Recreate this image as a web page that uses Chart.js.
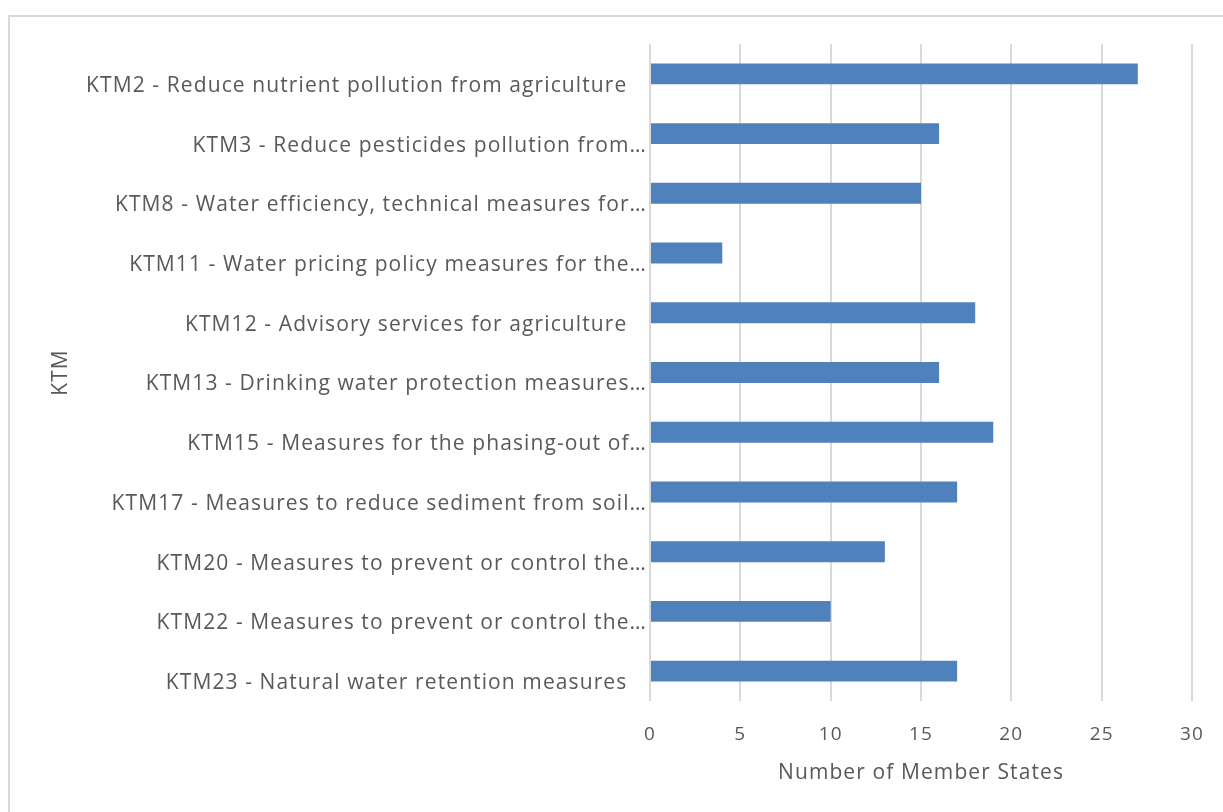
<!DOCTYPE html>
<html>
<head>
<meta charset="utf-8">
<script src="https://cdn.jsdelivr.net/npm/chart.js@4"></script>
<style>
html,body{margin:0;padding:0;background:#fff;overflow:hidden;}
#frame{position:absolute;left:8px;top:15px;width:1300px;height:900px;border:2px solid #d9d9d9;box-sizing:border-box;}
#wrap{position:absolute;left:0;top:0;width:1223px;height:812px;}
</style>
</head>
<body>
<div id="frame"></div>
<div id="wrap"><canvas id="chart" width="1223" height="812"></canvas></div>
<script>
const categories=[
"KTM2 - Reduce nutrient pollution from agriculture   ",
"KTM3 - Reduce pesticides pollution from…",
"KTM8 - Water efficiency, technical measures for…",
"KTM11 - Water pricing policy measures for the…",
"KTM12 - Advisory services for agriculture   ",
"KTM13 - Drinking water protection measures…",
"KTM15 - Measures for the phasing-out of…",
"KTM17 - Measures to reduce sediment from soil…",
"KTM20 - Measures to prevent or control the…",
"KTM22 - Measures to prevent or control the…",
"KTM23 - Natural water retention measures   "
];
const memberStates=[27,16,15,4,18,16,19,17,13,10,17];
const xTicks=[0,5,10,15,20,25,30];

const textColor="#595959";
const fontFamily="'Open Sans', sans-serif";

// calibri-ish spacing, the canvas gets reset on resize so set it each update
const spacing={
id:"spacing",
beforeUpdate(chart){chart.ctx.letterSpacing="1.1px";},
beforeDraw(chart){chart.ctx.letterSpacing="1.1px";}
};

new Chart(document.getElementById("chart"),{
type:"bar",
data:{
labels:categories,
datasets:[{
label:"Number of Member States",
data:memberStates,
backgroundColor:"#4f81bd",
barPercentage:0.35,
categoryPercentage:1
}]
},
plugins:[spacing],
options:{
indexAxis:"y",
responsive:false,
animation:false,
devicePixelRatio:1,
layout:{padding:{top:44,left:38,right:31,bottom:26}},
plugins:{legend:{display:false},tooltip:{enabled:false}},
scales:{
x:{
min:0,max:30,
afterBuildTicks:s=>{s.ticks=xTicks.map(v=>({value:v}));},
afterFit:s=>{s.height=85;s.paddingRight=0;s.paddingLeft=0;},
grid:{color:"#d9d9d9",lineWidth:2,drawTicks:false},
border:{display:false},
ticks:{color:textColor,font:{family:fontFamily,size:19},padding:22},
title:{display:true,text:"Number of Member States",color:textColor,font:{family:fontFamily,size:21},padding:{top:0,bottom:0}}
},
y:{
grid:{display:false,drawTicks:false},
border:{display:false},
afterFit:s=>{s.width=650-38;},
ticks:{color:textColor,font:{family:fontFamily,size:21},padding:3,autoSkip:false,labelOffset:12},
title:{display:true,text:"KTM",color:textColor,font:{family:fontFamily,size:21},padding:{top:10,bottom:0}}
}
}
}
});
</script>
</body>
</html>
